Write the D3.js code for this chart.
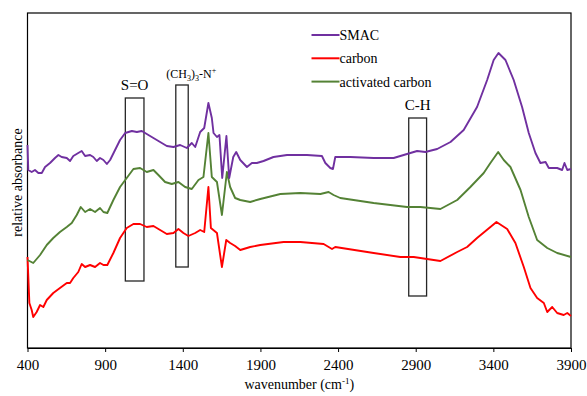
<!DOCTYPE html>
<html>
<head>
<meta charset="utf-8">
<script src="https://cdn.jsdelivr.net/npm/d3@7"></script>
<style>
  body { margin: 0; background: #fff; }
  svg text { font-family: 'Liberation Serif', 'Times New Roman', serif; fill: #000; }
</style>
</head>
<body>
<svg id="chart" width="587" height="396"></svg>
<script>
// spectra: [wavenumber, relative absorbance]
const smac = [
  [400, 2.03], [405, 1.78], [427, 1.76], [448, 1.78], [470, 1.75], [492, 1.75], [513, 1.81], [545, 1.85],
  [577, 1.90], [599, 1.93], [620, 1.91], [653, 1.90], [674, 1.87], [695, 1.92], [727, 1.95], [749, 1.97],
  [771, 1.92], [803, 1.93], [824, 1.91], [846, 1.87], [867, 1.90], [889, 1.88], [911, 1.84], [932, 1.88],
  [964, 1.98], [996, 2.08], [1029, 2.15], [1072, 2.17], [1104, 2.16], [1136, 2.17], [1168, 2.14],
  [1211, 2.10], [1254, 2.06], [1297, 2.02], [1340, 2.01], [1383, 2.03], [1426, 2.00], [1458, 2.05],
  [1480, 2.01], [1512, 2.16], [1538, 2.20], [1565, 2.45], [1587, 2.30], [1598, 2.15], [1620, 2.11],
  [1636, 2.13], [1654, 1.70], [1681, 2.12], [1699, 1.70], [1725, 1.91], [1744, 1.96], [1770, 1.88],
  [1813, 1.81], [1845, 1.85], [1877, 1.85], [1920, 1.87], [1984, 1.91], [2071, 1.93], [2200, 1.93],
  [2296, 1.92], [2318, 1.85], [2350, 1.80], [2367, 1.79], [2382, 1.91], [2479, 1.91], [2629, 1.90],
  [2758, 1.90], [2844, 1.94], [2909, 1.97], [2962, 1.96], [3038, 1.99], [3124, 2.06], [3209, 2.18],
  [3295, 2.41], [3360, 2.68], [3402, 2.88], [3433, 2.95], [3478, 2.88], [3531, 2.68], [3585, 2.41],
  [3628, 2.15], [3671, 1.95], [3703, 1.85], [3736, 1.86], [3757, 1.80], [3811, 1.80], [3843, 1.78],
  [3858, 1.85], [3876, 1.78], [3900, 1.79]
]
const carbon = [
  [400, 0.91], [412, 0.45], [427, 0.38], [437, 0.31], [459, 0.36], [481, 0.43], [502, 0.41], [524, 0.48],
  [566, 0.55], [609, 0.60], [653, 0.65], [674, 0.65], [695, 0.70], [727, 0.76], [749, 0.84], [771, 0.81],
  [803, 0.83], [835, 0.81], [867, 0.85], [889, 0.83], [914, 0.83], [953, 0.95], [996, 1.10], [1039, 1.20],
  [1082, 1.24], [1125, 1.24], [1168, 1.21], [1211, 1.22], [1254, 1.18], [1297, 1.14], [1340, 1.15],
  [1372, 1.19], [1404, 1.15], [1436, 1.12], [1480, 1.15], [1512, 1.18], [1538, 1.16], [1565, 1.61],
  [1581, 1.20], [1620, 1.15], [1652, 0.81], [1680, 1.08], [1705, 1.05], [1737, 1.02], [1770, 0.98],
  [1813, 1.00], [1834, 1.01], [1899, 1.03], [2049, 1.06], [2157, 1.06], [2307, 1.04], [2361, 0.99],
  [2382, 1.01], [2629, 0.95], [2801, 0.91], [2887, 0.91], [2973, 0.89], [3059, 0.87], [3167, 0.96],
  [3231, 1.01], [3295, 1.10], [3381, 1.21], [3420, 1.26], [3489, 1.19], [3542, 1.05], [3596, 0.81],
  [3639, 0.60], [3682, 0.50], [3725, 0.45], [3747, 0.36], [3779, 0.41], [3811, 0.35], [3853, 0.33],
  [3876, 0.35], [3900, 0.32]
]
const activated = [
  [400, 0.88], [437, 0.85], [481, 0.93], [524, 1.03], [566, 1.10], [609, 1.16], [653, 1.21], [685, 1.25],
  [717, 1.33], [743, 1.41], [771, 1.36], [803, 1.39], [835, 1.36], [867, 1.40], [889, 1.36], [914, 1.35],
  [953, 1.48], [996, 1.61], [1039, 1.70], [1082, 1.79], [1125, 1.80], [1168, 1.76], [1211, 1.78],
  [1243, 1.73], [1286, 1.66], [1329, 1.64], [1372, 1.66], [1415, 1.61], [1458, 1.59], [1501, 1.68],
  [1533, 1.71], [1565, 2.15], [1587, 1.71], [1620, 1.66], [1652, 1.33], [1684, 1.76], [1705, 1.61],
  [1737, 1.50], [1770, 1.48], [1834, 1.46], [1899, 1.49], [2028, 1.54], [2157, 1.55], [2286, 1.54],
  [2339, 1.56], [2371, 1.53], [2414, 1.50], [2629, 1.45], [2844, 1.41], [2930, 1.41], [3059, 1.39],
  [3167, 1.48], [3252, 1.61], [3295, 1.68], [3338, 1.75], [3381, 1.85], [3431, 1.96], [3467, 1.88],
  [3510, 1.81], [3575, 1.58], [3628, 1.31], [3682, 1.08], [3747, 1.00], [3811, 0.95], [3900, 0.91]
]

const seriesNames = ['SMAC', 'carbon', 'activated carbon']
const seriesColors = ['#7030A0', '#FF0000', '#548235']
const xTicks = [400, 900, 1400, 1900, 2400, 2900, 3400, 3900]

// marked bands: [label, from, to, top, bottom]
const bands = [
  ['S=O', 1030, 1150, 2.50, 0.67],
  ['CH3N', 1355, 1435, 2.63, 0.81],
  ['C-H', 2855, 2970, 2.30, 0.52]
]

const margin = { top: 13, right: 16, bottom: 48, left: 27.5 }
const W = 587, H = 396
const w = W - margin.left - margin.right
const h = H - margin.top - margin.bottom

const svg = d3.select('#chart')
const g = svg.append('g').attr('transform', `translate(${margin.left},${margin.top})`)

const x = d3.scaleLinear().domain([400, 3900]).range([0, w])
const y = d3.scaleLinear().domain([0, 3.35]).range([h, 0])

// frame
g.append('rect').attr('width', w).attr('height', h)
  .attr('fill', 'none').attr('stroke', '#000').attr('stroke-width', 1.2)

const xAxis = g.append('g').attr('transform', `translate(0,${h})`)
  .call(d3.axisBottom(x).tickValues(xTicks).tickSize(4).tickSizeOuter(0).tickFormat(d3.format('d')))
xAxis.select('.domain').attr('stroke-width', 1.2)
xAxis.selectAll('text').attr('font-size', 15).attr('dy', '1em')
  .style('font-family', "'Liberation Serif', serif")

// band boxes
const bandG = g.append('g')
bandG.selectAll('rect').data(bands).join('rect')
  .attr('x', d => x(d[1])).attr('width', d => x(d[2]) - x(d[1]))
  .attr('y', d => y(d[3])).attr('height', d => y(d[4]) - y(d[3]))
  .attr('fill', 'none').attr('stroke', '#262626').attr('stroke-width', 1.3)

const line = d3.line().x(d => x(d[0])).y(d => y(d[1]))
const data = [smac, carbon, activated]
g.append('g').selectAll('path').data([carbon, activated, smac]).join('path')
  .attr('d', line).attr('fill', 'none')
  .attr('stroke', d => seriesColors[data.indexOf(d)])
  .attr('stroke-width', 1.9).attr('stroke-linejoin', 'round')

// band labels
bandG.selectAll('text.lab').data(bands).join('text')
  .attr('class', 'lab')
  .attr('x', d => x((d[1] + d[2]) / 2))
  .attr('y', d => y(d[3]) - 8)
  .attr('text-anchor', 'middle').attr('font-size', 15)
  .each(function (d) {
    const t = d3.select(this)
    if (d[0] === 'CH3N') {
      t.attr('font-size', 12).attr('x', x(d[2]) + 3).attr('y', y(d[3]) - 7)
      t.append('tspan').text('(CH')
      t.append('tspan').text('3').attr('font-size', 8).attr('dy', 3)
      t.append('tspan').text(')').attr('dy', -3)
      t.append('tspan').text('3').attr('font-size', 8).attr('dy', 3)
      t.append('tspan').text('-N').attr('dy', -3)
      t.append('tspan').text('+').attr('font-size', 8).attr('dy', -5)
    } else {
      t.text(d[0])
    }
  })

// legend
const legend = g.append('g').attr('transform', 'translate(284,22)')
const items = legend.selectAll('g').data(seriesNames).join('g')
  .attr('transform', (d, i) => `translate(0,${i * 23.3})`)
items.append('line').attr('x1', 0).attr('x2', 28)
  .attr('stroke', (d, i) => seriesColors[i]).attr('stroke-width', 2)
items.append('text').attr('x', 28).attr('dy', '0.35em').attr('font-size', 14).text(d => d)

// axis titles
const xt = svg.append('text').attr('x', margin.left + w / 2).attr('y', 389)
  .attr('text-anchor', 'middle').attr('font-size', 14)
xt.append('tspan').text('wavenumber (cm')
xt.append('tspan').text('-1').attr('font-size', 9).attr('dy', -5)
xt.append('tspan').text(')').attr('dy', 5)

svg.append('text').attr('transform', `translate(22,${margin.top + h / 2 + 2}) rotate(-90)`)
  .attr('text-anchor', 'middle').attr('font-size', 14).text('relative absorbance')
</script>
</body>
</html>
